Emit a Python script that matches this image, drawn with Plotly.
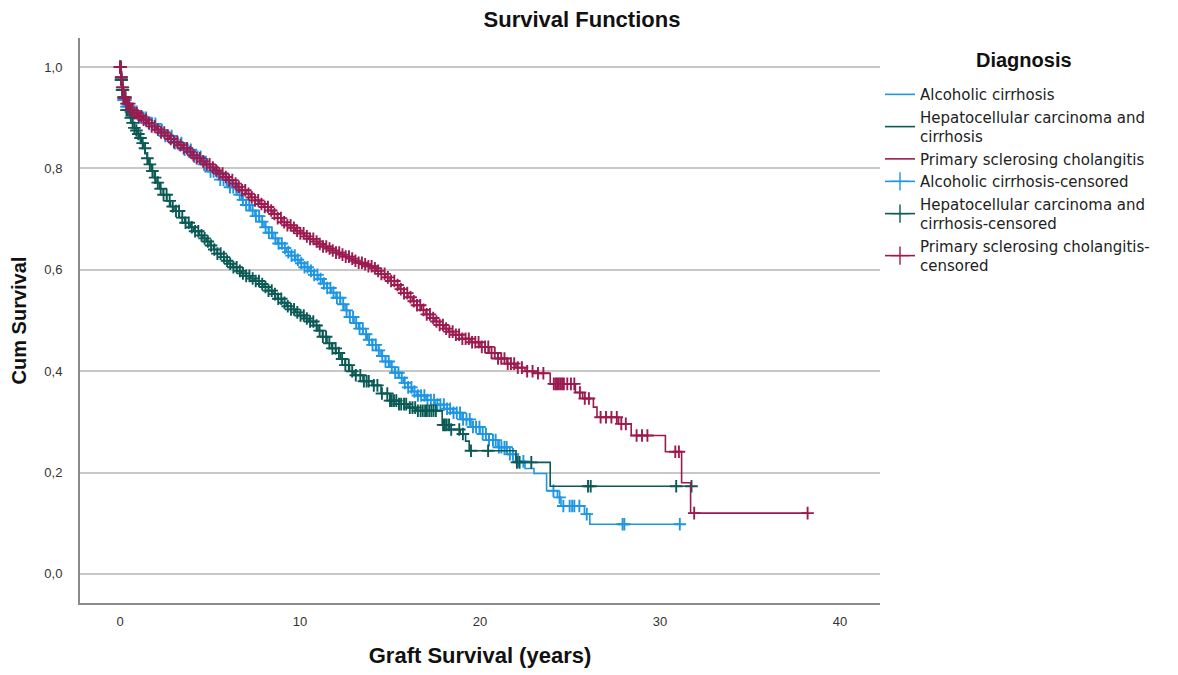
import numpy as np
import plotly.graph_objects as go

# ---- Kaplan-Meier knots (time in years, cumulative survival) ----
alc_t = [0, 0.05, 0.1, 0.2, 0.35, 0.6, 1.0, 1.5, 2.0, 2.5, 3.0, 3.5, 4.0, 4.5, 5.0, 5.5,
         6.0, 6.5, 6.75, 7.0, 7.25, 7.5, 7.75, 8.0, 8.25, 8.5, 8.75, 9.0, 9.25, 9.5, 9.75,
         10.0, 10.25, 10.5, 10.75, 11.0, 11.25, 11.5, 11.75, 12.0, 12.25, 12.5, 12.75,
         13.0, 13.25, 13.5, 13.75, 14.0, 14.25, 14.5, 14.75, 15.0, 15.25, 15.5, 15.75,
         16.0, 16.25, 16.5, 17.0, 17.5, 18.0, 18.5, 19.0, 19.5, 20.0, 20.5, 21.0, 21.5,
         22.0, 22.5, 23.0, 23.7, 24.3, 24.5, 25.8, 26.1]
alc_s = [1.0, .975, .955, .935, .922, .912, .9, .888, .876, .864, .85, .837, .823, .808, .794, .778,
         .763, .748, .738, .728, .717, .706, .695, .684, .673, .662, .652, .643, .635, .628, .62,
         .613, .605, .598, .59, .582, .573, .564, .555, .545, .532, .52, .507,
         .495, .484, .473, .462, .452, .441, .43, .419, .408, .397, .387, .377,
         .368, .36, .352, .343, .334, .326, .318, .305, .29, .276, .264, .25, .236,
         .222, .208, .198, .164, .151, .134, .118, .098]
alc_end = 31.1
alc_cens = [0.0, 0.02, 0.04, 0.06, 0.09, 0.12, 0.16, 0.2, 0.25, 0.3, 0.36, 0.43, 0.51, 0.6, 0.7,
            0.81, 0.93, 1.05, 1.18, 1.31, 1.45, 1.62, 1.79, 1.97, 2.14, 2.33, 2.51, 2.68, 2.87,
            3.05, 3.22, 3.41, 3.59, 3.77, 3.94, 4.13, 4.31, 4.48, 4.67, 4.85, 5.03, 5.2, 5.39,
            5.57, 5.75, 5.92, 6.11, 6.29, 6.46, 6.65, 6.83, 7.01, 7.18, 7.37, 7.55, 7.73, 7.9,
            8.09, 8.27, 8.44, 8.63, 8.81, 8.99, 9.16, 9.35, 9.53, 9.71, 9.88, 10.07, 10.25,
            10.42, 10.61, 10.79, 10.97, 11.14, 11.33, 11.51, 11.69, 11.86, 12.05, 12.23, 12.4,
            12.59, 12.77, 12.95, 13.12, 13.31, 13.49, 13.67, 13.84, 14.03, 14.21, 14.38, 14.57,
            14.75, 14.93, 15.1, 15.29, 15.47, 15.65, 15.82, 16.01, 16.19, 16.36, 16.55, 16.73,
            16.91, 17.08, 17.27, 17.45, 17.63, 17.8, 17.99, 18.17, 18.34, 18.53, 18.71, 18.89,
            19.06, 19.25, 19.43, 19.61, 19.78, 19.97, 20.15, 20.33, 20.5, 20.72, 20.87, 21.05,
            21.19, 21.36, 21.48, 21.66, 21.83, 22.12, 22.41, 24.08, 24.42, 24.63, 24.98, 25.12,
            25.24, 25.52, 25.93, 27.92, 28.02, 31.1]

hcc_t = [0, 0.05, 0.1, 0.2, 0.35, 0.55, 0.7, 0.8, 0.9, 1.0, 1.1, 1.2, 1.3, 1.4, 1.5, 1.6,
         1.75, 1.9, 2.0, 2.2, 2.4, 2.6, 2.8, 3.0, 3.3, 3.6, 3.9, 4.1, 4.4, 4.6, 4.8, 5.0,
         5.2, 5.4, 5.6, 5.8, 6.0, 6.25, 6.5, 6.75, 7.0, 7.25, 7.5, 7.75, 8.0, 8.25, 8.5,
         8.75, 9.0, 9.25, 9.5, 9.75, 10.0, 10.25, 10.5, 10.75, 11.0, 11.25, 11.5, 11.75,
         12.0, 12.25, 12.5, 12.75, 13.0, 13.5, 14.0, 14.5, 15.0, 15.5, 16.0, 16.5, 17.9,
         18.3, 18.9, 19.2, 19.4, 22.0, 23.9]
hcc_s = [1.0, .975, .955, .94, .915, .9, .89, .88, .875, .868, .86, .85, .84, .83, .82, .808,
         .795, .782, .772, .76, .748, .736, .725, .716, .703, .693, .684, .676, .668, .662, .656, .648,
         .64, .632, .625, .618, .612, .605, .598, .593, .588, .583, .578, .572, .566, .559, .552,
         .543, .535, .528, .522, .516, .51, .504, .498, .49, .48, .468, .455, .445,
         .436, .424, .412, .4, .392, .38, .372, .356, .342, .335, .328, .322, .294,
         .285, .276, .262, .243, .22, .173]
hcc_end = 31.75
hcc_cens = [0.0, 0.02, 0.04, 0.06, 0.09, 0.12, 0.16, 0.2, 0.25, 0.3, 0.36, 0.43, 0.51, 0.6, 0.7,
            0.8, 0.91, 1.02, 1.14, 1.26, 1.39, 1.52, 1.66, 1.8, 1.95, 2.1, 2.26, 2.42, 2.59,
            2.76, 2.93, 3.11, 3.28, 3.46, 3.64, 3.82, 3.99, 4.17, 4.35, 4.53, 4.7, 4.88, 5.06,
            5.24, 5.41, 5.59, 5.77, 5.95, 6.12, 6.3, 6.48, 6.66, 6.83, 7.01, 7.19, 7.37, 7.54,
            7.72, 7.9, 8.08, 8.25, 8.43, 8.61, 8.79, 8.96, 9.14, 9.32, 9.5, 9.67, 9.85, 10.03,
            10.21, 10.38, 10.56, 10.74, 10.92, 11.09, 11.27, 11.45, 11.63, 11.8, 11.98, 12.16,
            12.34, 12.52, 12.71, 12.9, 13.1, 13.35, 13.55, 13.7, 13.82, 14.1, 14.3, 14.55, 14.85,
            15.0, 15.1, 15.22, 15.35, 15.5, 15.62, 15.78, 15.9, 16.1, 16.25, 16.4, 16.55, 16.7,
            16.82, 16.95, 17.05, 17.18, 17.3, 17.42, 17.55, 17.95, 18.05, 18.15, 18.28, 18.4,
            18.85, 19.05, 19.5, 20.45, 22.05, 22.2, 22.85, 26.0, 26.15, 30.9, 31.75]

psc_t = [0, 0.05, 0.1, 0.2, 0.35, 0.6, 0.8, 1.0, 1.25, 1.5, 1.75, 2.0, 2.25, 2.5, 2.75,
         3.0, 3.25, 3.5, 3.75, 4.0, 4.25, 4.5, 4.75, 5.0, 5.25, 5.5, 5.75, 6.0, 6.25, 6.5,
         6.75, 7.0, 7.25, 7.5, 7.75, 8.0, 8.25, 8.5, 8.75, 9.0, 9.25, 9.5, 9.75, 10.0,
         10.25, 10.5, 10.75, 11.0, 11.25, 11.5, 11.75, 12.0, 12.25, 12.5, 12.75, 13.0,
         13.25, 13.5, 13.75, 14.0, 14.25, 14.5, 14.75, 15.0, 15.25, 15.5, 15.75, 16.0,
         16.25, 16.5, 16.75, 17.0, 17.25, 17.5, 17.75, 18.0, 18.25, 18.5, 19.0, 19.5,
         20.0, 20.5, 21.0, 21.5, 22.0, 22.5, 23.0, 23.9, 25.3, 25.7, 26.3, 26.5, 27.7,
         28.4, 30.3, 31.2, 31.7]
psc_s = [1.0, .98, .96, .94, .928, .915, .909, .903, .896, .89, .883, .877, .871, .865, .858,
         .852, .846, .84, .833, .826, .82, .814, .808, .802, .796, .79, .783, .777, .77, .764,
         .757, .75, .743, .737, .73, .724, .717, .71, .702, .694, .688, .683, .677, .672,
         .666, .661, .656, .651, .646, .642, .638, .634, .63, .626, .622, .618,
         .614, .611, .607, .603, .598, .592, .585, .578, .57, .562, .554, .546,
         .538, .53, .521, .512, .505, .498, .491, .484, .478, .472, .464, .457,
         .448, .436, .425, .415, .407, .4, .396, .375, .358, .346, .329, .309, .296,
         .273, .241, .18, .12]
psc_end = 38.2
psc_cens = [0.0, 0.02, 0.04, 0.06, 0.09, 0.12, 0.16, 0.2, 0.25, 0.3, 0.36, 0.43, 0.51, 0.6, 0.7,
            0.81, 0.93, 1.05, 1.18, 1.31, 1.45, 1.6, 1.76, 1.93, 2.1, 2.28, 2.46, 2.64, 2.82,
            3.0, 3.18, 3.36, 3.54, 3.72, 3.9, 4.08, 4.26, 4.44, 4.62, 4.8, 4.98, 5.16, 5.34,
            5.52, 5.7, 5.88, 6.06, 6.24, 6.42, 6.6, 6.78, 6.96, 7.14, 7.32, 7.5, 7.68, 7.86,
            8.04, 8.22, 8.4, 8.58, 8.76, 8.94, 9.12, 9.3, 9.48, 9.66, 9.84, 10.02, 10.2, 10.38,
            10.56, 10.74, 10.92, 11.1, 11.28, 11.46, 11.64, 11.82, 12.0, 12.18, 12.36, 12.54,
            12.72, 12.9, 13.08, 13.26, 13.44, 13.62, 13.8, 13.98, 14.16, 14.34, 14.52, 14.7,
            14.88, 15.06, 15.24, 15.42, 15.6, 15.78, 15.96, 16.14, 16.32, 16.5, 16.68, 16.86,
            17.04, 17.22, 17.4, 17.58, 17.76, 17.94, 18.12, 18.3, 18.48, 18.66, 18.84, 19.02,
            19.2, 19.38, 19.56, 19.74, 19.92, 20.1, 20.28, 20.46, 20.64, 20.82, 21.0, 21.18,
            21.36, 21.54, 21.72, 21.9, 22.1, 22.33, 22.62, 22.92, 23.22, 23.52, 24.1, 24.2,
            24.28, 24.38, 24.47, 24.56, 24.66, 24.85, 25.05, 25.24, 25.55, 25.82, 26.05, 26.7,
            27.0, 27.3, 27.6, 27.85, 28.1, 28.7, 29.0, 29.3, 30.85, 31.05, 31.9, 38.2]

names = ["Alcoholic cirrhosis", "Hepatocellular carcinoma and<br>cirrhosis",
         "Primary sclerosing cholangitis"]
cens_names = ["Alcoholic cirrhosis-censored", "Hepatocellular carcinoma and<br>cirrhosis-censored",
              "Primary sclerosing cholangitis-<br>censored"]
legend_title = "Diagnosis"
colors = ["#1E96E1", "#0B5A55", "#9B1B50"]
x_ticks = [0, 10, 20, 30, 40]
y_ticks = [0.0, 0.2, 0.4, 0.6, 0.8, 1.0]

series = [(alc_t, alc_s, alc_end, alc_cens), (hcc_t, hcc_s, hcc_end, hcc_cens),
          (psc_t, psc_s, psc_end, psc_cens)]

fig = go.Figure()
for (t, s, end, cens), name, col in zip(series, names, colors):
    n = min(len(t), len(s))
    t = np.asarray(t[:n], float)
    s = np.asarray(s[:n], float)
    fig.add_trace(go.Scatter(x=list(t) + [end], y=list(s) + [s[-1]], mode="lines",
                             line=dict(color=col, width=1.6, shape="hv"), name=name,
                             showlegend=False, hoverinfo="skip"))
    c = np.asarray(cens, float)
    idx = np.searchsorted(t, c, side="right") - 1
    fig.add_trace(go.Scatter(x=c, y=s[idx], mode="markers", showlegend=False, hoverinfo="skip",
                             marker=dict(symbol="cross-thin", size=9,
                                         line=dict(color=col, width=1.9))))

# legend entries
for name, col in zip(names, colors):
    fig.add_trace(go.Scatter(x=[None], y=[None], mode="lines", name=name,
                             line=dict(color=col, width=1.6, shape="hv")))
for name, col in zip(cens_names, colors):
    fig.add_trace(go.Scatter(x=[None], y=[None], mode="lines+markers", name=name,
                             line=dict(color=col, width=1.6),
                             marker=dict(symbol="cross-thin", size=13,
                                         line=dict(color=col, width=1.4))))

sans = "Liberation Sans, Arial, sans-serif"

fig.update_layout(
    width=1170, height=667,
    margin=dict(l=72, r=298, t=30, b=72),
    paper_bgcolor="white", plot_bgcolor="white",
    separators=", ",
    title=dict(text="<b>Survival Functions</b>", x=0.6275, xref="paper", xanchor="center",
               y=0.9835, yref="container", yanchor="middle",
               font=dict(family=sans, size=22, color="#111")),
    xaxis=dict(range=[-2.222, 42.222], tickvals=x_ticks, showgrid=False, zeroline=False,
               showline=True, linecolor="#8a8a8a", linewidth=2, ticks="",
               ticklabelstandoff=5, automargin=False,
               tickfont=dict(family=sans, size=13, color="#333"),
               title=dict(text="<b>Graft Survival (years)</b>", standoff=20,
                          font=dict(family=sans, size=22, color="#111"))),
    yaxis=dict(range=[-0.0574, 1.0574], tickvals=y_ticks, tickformat=".1f", showgrid=True,
               gridcolor="#c8c8c8", gridwidth=1.5, zeroline=False,
               showline=True, linecolor="#8a8a8a", linewidth=2, ticks="",
               ticklabelstandoff=13, automargin=False,
               tickfont=dict(family=sans, size=13, color="#333"),
               title=dict(text="<b>Cum Survival</b>", standoff=18,
                          font=dict(family=sans, size=20, color="#111"))),
    legend=dict(x=1.0, xanchor="left", y=0.929, yanchor="top",
                font=dict(family="DejaVu Sans, sans-serif", size=15, color="#222"),
                itemwidth=30, tracegroupgap=0, bgcolor="rgba(0,0,0,0)"),
    annotations=[dict(text="<b>" + legend_title + "</b>", xref="paper", yref="paper",
                      x=1.18, y=0.961, xanchor="center", yanchor="middle", showarrow=False,
                      font=dict(family=sans, size=20, color="#111"))],
)

fig.write_html("out.html")
